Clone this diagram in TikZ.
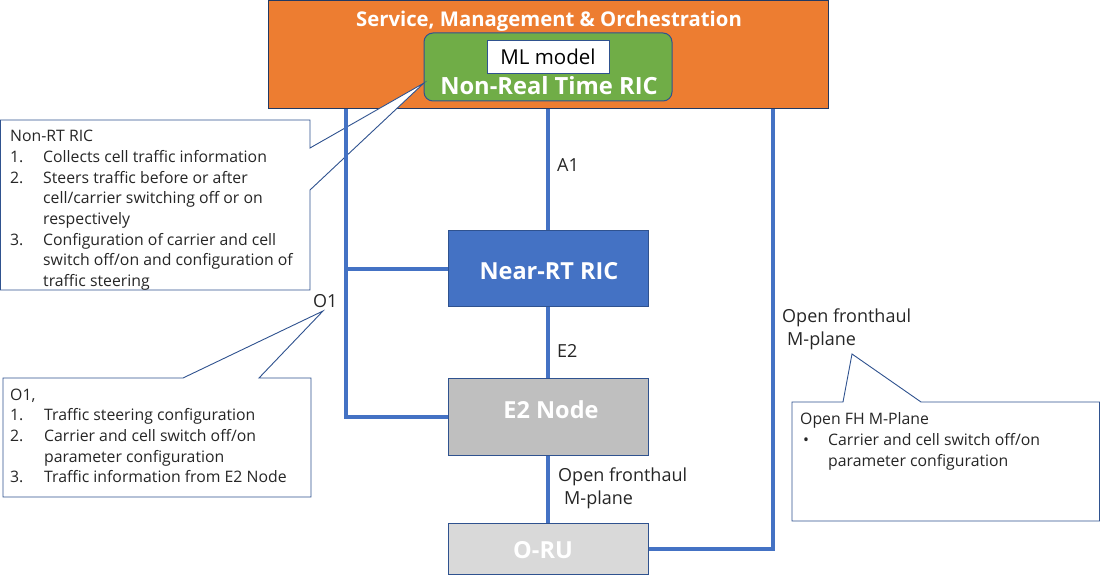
\documentclass[tikz,border=0pt]{standalone}
\usepackage{fontspec}
\setmainfont{Open Sans}
\definecolor{orng}{HTML}{ED7D31}
\definecolor{grn}{HTML}{70AD47}
\definecolor{lblue}{HTML}{4472C4}
\definecolor{outl}{HTML}{2F528F}
\definecolor{gmid}{HTML}{BFBFBF}
\definecolor{glight}{HTML}{D9D9D9}
\definecolor{txt}{HTML}{262626}
\begin{document}
\begin{tikzpicture}[x=1pt,y=-1pt,
  box/.style={draw=outl, line width=1pt, inner sep=0pt, text=white,
    font=\bfseries\fontsize{23.5}{28}\selectfont, text height=16.8pt, text depth=0pt,
    minimum width=200pt},
  link/.style={draw=lblue, line width=3.5pt, line join=miter},
  callout/.style={draw=outl, fill=white, line width=0.9pt, line join=miter},
  ctext/.style={anchor=north west, inner sep=0pt, align=left,
    font=\fontsize{15.8}{20.7}\selectfont, text=txt},
  lab/.style={inner sep=0pt, font=\fontsize{18}{23}\selectfont, text=txt},
]
\useasboundingbox (0,0) rectangle (1101,577);

% Service, Management & Orchestration
\node[draw=outl!70!black, line width=1pt, fill=orng, minimum width=560pt,
  minimum height=108pt, inner sep=0pt] (smo) at (548,55) {};
\node[inner sep=0pt, text=white, font=\bfseries\fontsize{20.3}{24}\selectfont,
  text height=14.5pt, text depth=0pt] (smotitle) at (549,19)
  {Service, Management \& Orchestration};
\node[draw=outl, line width=1pt, fill=grn, rounded corners=9pt,
  minimum width=248pt, minimum height=68pt, inner sep=0pt] (nonrt) at (548,67) {};
\node[draw=outl, line width=1pt, fill=white, minimum width=122pt,
  minimum height=33pt, inner sep=0pt, font=\fontsize{20.5}{24}\selectfont,
  text height=14.6pt, text depth=0pt] (ml) at (548,57.5) {ML model};
\node[inner sep=0pt, text=white, font=\bfseries\fontsize{23.7}{28}\selectfont,
  text height=16.9pt, text depth=0pt] (nrtlabel) at (549,86) {Non-Real Time RIC};

% callouts
\draw[callout] (0.5,120) -- (310,120) -- (310,148) -- (424,83) -- (310,190)
  -- (310,290) -- (0.5,290) -- cycle;
\node[ctext] (t1) at (10,130) {Non-RT RIC\\
\makebox[33pt][l]{1.}Collects cell traffic information\\
\makebox[33pt][l]{2.}Steers traffic before or after\\
\hspace*{33pt}cell/carrier switching off or on\\
\hspace*{33pt}respectively\\
\makebox[33pt][l]{3.}Configuration of carrier and cell\\
\hspace*{33pt}switch off/on and configuration of\\
\hspace*{33pt}traffic steering};

\draw[callout] (3,378) -- (183,378) -- (323,311) -- (259,378) -- (311,378)
  -- (311,497) -- (3,497) -- cycle;
\node[ctext] (t2) at (10,388.5) {O1,\\
\makebox[34pt][l]{1.}Traffic steering configuration\\
\makebox[34pt][l]{2.}Carrier and cell switch off/on\\
\hspace*{34pt}parameter configuration\\
\makebox[34pt][l]{3.}Traffic information from E2 Node};

\draw[callout] (792,402) -- (843,402) -- (852,354) -- (921,402) -- (1099.5,402)
  -- (1099.5,521) -- (792,521) -- cycle;
\node[ctext] (t3) at (800,412.5) {Open FH M-Plane\\
\hspace*{3pt}\makebox[25pt][l]{\textbullet}Carrier and cell switch off/on\\
\hspace*{28pt}parameter configuration};

% RAN boxes
\node[box, fill=lblue, minimum height=76pt, text height=22pt] (near) at (548,269)
  {\hspace*{2pt}Near-RT RIC};
\node[box, fill=gmid, minimum height=76pt, text depth=14pt] (e2n) at (548,417)
  {\hspace*{6pt}E2 Node};
\node[box, fill=glight, minimum height=51pt, text height=18pt] (oru) at (548,549)
  {\hspace*{-10pt}O-RU};

% connectors
\coordinate (cL) at (346,0);
\coordinate (cR) at (773,0);
\draw[link] (smo.south -| cL) -- (cL |- e2n.west) -- (e2n.west);
\draw[link] (cL |- near.west) -- (near.west);
\draw[link] (smo.south -| near.north) -- (near.north);
\draw[link] (near.south) -- (e2n.north);
\draw[link] (e2n.south) -- (oru.north);
\draw[link] (oru.east) -- (oru.east -| cR) -- (smo.south -| cR);

% interface labels
\node[lab, anchor=west, text height=12.9pt, text depth=0pt] (a1) at (557,165) {A1};
\node[lab, anchor=west, text height=12.9pt, text depth=0pt] (e2) at (557,351) {E2};
\node[lab, anchor=west, text height=12.9pt, text depth=0pt] (o1) at (313,301) {O1};
\node[lab, anchor=north west, align=left] (ofh1) at (558,468)
  {Open fronthaul\\\hspace*{6pt}M-plane};
\node[lab, anchor=north west, align=left] (ofh2) at (782,309)
  {Open fronthaul\\\hspace*{5pt}M-plane};
\end{tikzpicture}
\end{document}
